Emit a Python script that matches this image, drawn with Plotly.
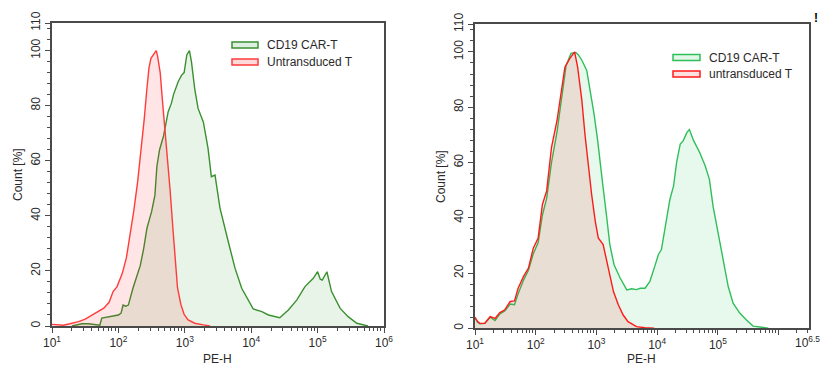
import numpy as np
import plotly.graph_objects as go

# ---------------- data (log10 of fluorescence, % of max count) ----------------
# Left panel: PE-H
left_red_lx = [1.0, 1.17, 1.27, 1.40, 1.50, 1.60, 1.70, 1.78, 1.86, 1.92, 1.98, 2.06, 2.12, 2.17,
               2.23, 2.29, 2.34, 2.39, 2.43, 2.46, 2.49, 2.54, 2.57, 2.59, 2.63, 2.66, 2.70, 2.74,
               2.78, 2.82, 2.86, 2.89, 2.94, 2.99, 3.05, 3.15, 3.28, 3.38]
left_red_y = [0.6, 0.3, 0.8, 1.6, 2.5, 4.0, 5.4, 6.5, 8.6, 12.5, 14.3, 19.2, 24.7, 32,
              41.5, 52.4, 63.3, 75.4, 86.3, 93.6, 97.2, 99.0, 100, 98, 91.9, 82.8, 71.9, 61,
              48.9, 35.6, 23.5, 13.9, 7.9, 4.2, 2.2, 1.0, 0.4, 0]

left_green_lx = [1.30, 1.45, 1.55, 1.65, 1.72, 1.75, 1.82, 1.92, 2.0, 2.04, 2.07, 2.11, 2.15, 2.22,
                 2.28, 2.33, 2.38, 2.43, 2.47, 2.50, 2.55, 2.58, 2.62, 2.68, 2.75, 2.80, 2.83, 2.90,
                 2.95, 2.99, 3.03, 3.07, 3.10, 3.15, 3.20, 3.28, 3.35, 3.40, 3.455, 3.53, 3.655,
                 3.756, 3.857, 3.956, 4.03, 4.16, 4.26, 4.43, 4.56, 4.685, 4.81, 4.935, 5.0, 5.04,
                 5.07, 5.14, 5.21, 5.34, 5.46, 5.59, 5.76]
left_green_y = [0, 0.8, 0.8, 0.5, 0.3, 2.9, 3.2, 3.4, 4.0, 4.7, 7.6, 7.2, 7.6, 13.8,
                18, 22, 28, 35.5, 39, 41.5, 47.5, 58, 64, 69, 77.8, 81, 84, 88.7,
                91, 92, 98.4, 100, 96, 86, 79, 74, 64.5, 54.2, 54.8, 42.8, 30.6,
                21, 13.7, 9.4, 6.2, 5.2, 4.0, 3.0, 5.8, 9.4, 14.3, 17.3, 19.7, 17,
                16.7, 19.7, 12.5, 6.4, 3.4, 1.0, 0]

# Right panel
right_red_lx = [1.0, 1.04, 1.08, 1.16, 1.25, 1.33, 1.41, 1.49, 1.58, 1.65, 1.71, 1.80, 1.88, 1.96,
                2.04, 2.11, 2.18, 2.26, 2.35, 2.43, 2.48, 2.56, 2.64, 2.69, 2.76, 2.81, 2.87, 2.92,
                2.98, 3.03, 3.11, 3.20, 3.28, 3.36, 3.44, 3.52, 3.66, 3.80, 3.95]
right_red_y = [4.0, 2.5, 1.8, 1.8, 4.2, 3.6, 5.7, 6.7, 9.7, 9.9, 14.5, 18.8, 21.8, 29,
               32.7, 44.8, 49.7, 65.5, 75.1, 87.3, 94.5, 97.6, 100, 94.5, 82.4, 70.3, 58.2, 48.5,
               38.8, 32.7, 30.3, 21.8, 13.3, 8.5, 4.8, 2.4, 0.6, 0.2, 0]

right_green_lx = [1.0, 1.04, 1.08, 1.16, 1.25, 1.33, 1.41, 1.49, 1.58, 1.65, 1.71, 1.80, 1.88, 1.96,
                  2.04, 2.11, 2.18, 2.26, 2.35, 2.43, 2.50, 2.58, 2.66, 2.70, 2.76, 2.84, 2.89, 2.96,
                  3.02, 3.06, 3.11, 3.17, 3.22, 3.29, 3.39, 3.50, 3.58, 3.66, 3.72, 3.80, 3.88, 3.96,
                  4.02, 4.07, 4.13, 4.21, 4.27, 4.32, 4.38, 4.43, 4.49, 4.53, 4.60, 4.70, 4.79, 4.86,
                  4.92, 5.01, 5.09, 5.17, 5.25, 5.36, 5.47, 5.58, 5.75, 5.83]
right_green_y = [4.0, 2.3, 1.6, 1.8, 4.0, 2.8, 5.2, 6.3, 8.8, 8.5, 12.5, 17.5, 21, 27,
                 31, 41, 47, 60, 71, 84, 95, 99.5, 99.8, 99, 97, 93.3, 87.3, 77.6,
                 67.9, 59.4, 50.9, 40, 30.3, 23, 18.2, 13.9, 14.3, 14.0, 14.5, 14.5, 17, 22.4,
                 26.7, 28.5, 37, 46.7, 51.5, 60, 66.7, 67.9, 70.9, 71.9, 67.9, 63.6, 58.8, 53.9,
                 44.2, 33.3, 23.6, 15.1, 9.1, 5.5, 3.0, 0.8, 0.3, 0]

series_names_left = ["CD19 CAR-T", "Untransduced T"]
series_names_right = ["CD19 CAR-T", "untransduced T"]

y_tickvals = [0, 20, 40, 60, 80, 100, 110]
left_x_exp = [1, 2, 3, 4, 5, 6]
left_x_labels = ["10<sup>1</sup>", "10<sup>2</sup>", "10<sup>3</sup>", "10<sup>4</sup>",
                 "10<sup>5</sup>", "10<sup>6</sup>"]
right_x_exp = [1, 2, 3, 4, 5, 6]
right_x_labels = ["10<sup>1</sup>", "10<sup>2</sup>", "10<sup>3</sup>", "10<sup>4</sup>",
                  "10<sup>5</sup>", ""]
right_x_end_label = "10<sup>6.5</sup>"
x_title = "PE-H"
y_title = "Count [%]"

# ---------------- styling ----------------
W, H = 823, 366
FONT = "Liberation Sans, Arial, sans-serif"
TXT = "#2a2a2a"
AX = "#4a4a4a"

L_GREEN, L_GREEN_FILL = "#3a9030", "rgba(0,128,0,0.09)"
L_RED, L_RED_FILL = "#ff3b3b", "rgba(255,0,0,0.10)"
R_GREEN, R_GREEN_FILL = "#2fbf5a", "rgba(40,190,80,0.11)"
R_RED, R_RED_FILL = "#ff1a1a", "rgba(255,0,0,0.10)"


def fx(p):
    return p / W


def fy(p):
    return 1 - p / H


fig = go.Figure()


def add(lx, y, color, fill, xa, ya):
    fig.add_trace(go.Scatter(
        x=np.power(10.0, np.array(lx)), y=y, mode="lines",
        line=dict(color=color, width=1.4), fill="tozeroy", fillcolor=fill,
        xaxis=xa, yaxis=ya, showlegend=False, hoverinfo="skip"))


add(left_green_lx, left_green_y, L_GREEN, L_GREEN_FILL, "x", "y")
add(left_red_lx, left_red_y, L_RED, L_RED_FILL, "x", "y")
add(right_green_lx, right_green_y, R_GREEN, R_GREEN_FILL, "x2", "y2")
add(right_red_lx, right_red_y, R_RED, R_RED_FILL, "x2", "y2")

minor_left = [m * 10 ** d for d in range(1, 6) for m in range(2, 10)]
minor_right = [m * 10 ** d for d in range(1, 6) for m in range(2, 10)] + [2e6, 3e6]

common_x = dict(type="log", showgrid=False, zeroline=False, showline=True, linecolor=AX,
                linewidth=1.5, mirror=True, ticks="outside", ticklen=5, tickcolor=AX,
                tickwidth=1, automargin=False,
                tickfont=dict(family=FONT, size=12, color=TXT))
common_y = dict(range=[0, 110], showgrid=False, zeroline=False, showline=True, linecolor=AX,
                linewidth=1.5, mirror=True, ticks="outside", ticklen=5, tickcolor=AX,
                tickwidth=1, tickvals=y_tickvals, tickangle=-90, automargin=False,
                tickfont=dict(family=FONT, size=12, color=TXT),
                minor=dict(tick0=0, dtick=4, ticks="outside", ticklen=3, tickcolor=AX,
                           showgrid=False))

fig.update_layout(
    width=W, height=H, margin=dict(l=0, r=0, t=0, b=0, autoexpand=False),
    paper_bgcolor="white", plot_bgcolor="white",
    xaxis=dict(domain=[fx(52), fx(384)], range=[1, 6], anchor="y",
               tickvals=[10 ** e for e in left_x_exp], ticktext=left_x_labels,
               minor=dict(tickvals=minor_left, ticks="outside", ticklen=3, tickcolor=AX,
                          showgrid=False),
               **common_x),
    yaxis=dict(domain=[fy(326), fy(23)], anchor="x", **common_y),
    xaxis2=dict(domain=[fx(475), fx(809)], range=[1, 6.5], anchor="y2",
                tickvals=[10 ** e for e in right_x_exp], ticktext=right_x_labels,
                minor=dict(tickvals=minor_right, ticks="outside", ticklen=3, tickcolor=AX,
                           showgrid=False),
                **common_x),
    yaxis2=dict(domain=[fy(328.3), fy(24.3)], anchor="x2", **common_y),
)

# legends (drawn as swatches + text)
shapes = []
annotations = []


def legend_row(x0, x1, yc, h, line, fill, text):
    shapes.append(dict(type="rect", xref="paper", yref="paper",
                       x0=fx(x0), x1=fx(x1), y0=fy(yc + h / 2), y1=fy(yc - h / 2),
                       line=dict(color=line, width=1.5), fillcolor=fill))
    annotations.append(dict(xref="paper", yref="paper", x=fx(x1 + 7), y=fy(yc),
                            xanchor="left", yanchor="middle", text=text, showarrow=False,
                            font=dict(family=FONT, size=12, color=TXT)))


legend_row(232, 258, 45, 6, L_GREEN, "rgba(0,128,0,0.12)", series_names_left[0])
legend_row(232, 258, 62, 6, L_RED, "rgba(255,0,0,0.15)", series_names_left[1])
legend_row(673, 700, 57.5, 6, R_GREEN, "rgba(40,190,80,0.13)", series_names_right[0])
legend_row(673, 700, 74, 6, R_RED, "rgba(255,0,0,0.12)", series_names_right[1])

for xc, yc, txt, ang in [(18, 175, y_title, -90), (441, 177, y_title, -90),
                         (217, 359, x_title, 0), (641, 359, x_title, 0)]:
    annotations.append(dict(xref="paper", yref="paper", x=fx(xc), y=fy(yc),
                            xanchor="center", yanchor="middle", text=txt, showarrow=False,
                            textangle=ang, font=dict(family=FONT, size=12, color=TXT)))

# end label of the right x axis, kept inside the window
annotations.append(dict(xref="paper", yref="paper", x=fx(822), y=fy(342), xanchor="right",
                        yanchor="middle", text=right_x_end_label, showarrow=False,
                        font=dict(family=FONT, size=12, color=TXT)))

annotations.append(dict(xref="paper", yref="paper", x=fx(820), y=fy(18), xanchor="right",
                        yanchor="middle", text="<b>!</b>", showarrow=False,
                        font=dict(family=FONT, size=12, color="#000")))

fig.update_layout(shapes=shapes, annotations=annotations)

# remove the default page margin so the 823x366 figure fills the window exactly
fig.write_html("out.html", config={"displayModeBar": False},
               post_script="document.body.style.margin='0';"
                           "document.body.style.overflow='hidden';")
